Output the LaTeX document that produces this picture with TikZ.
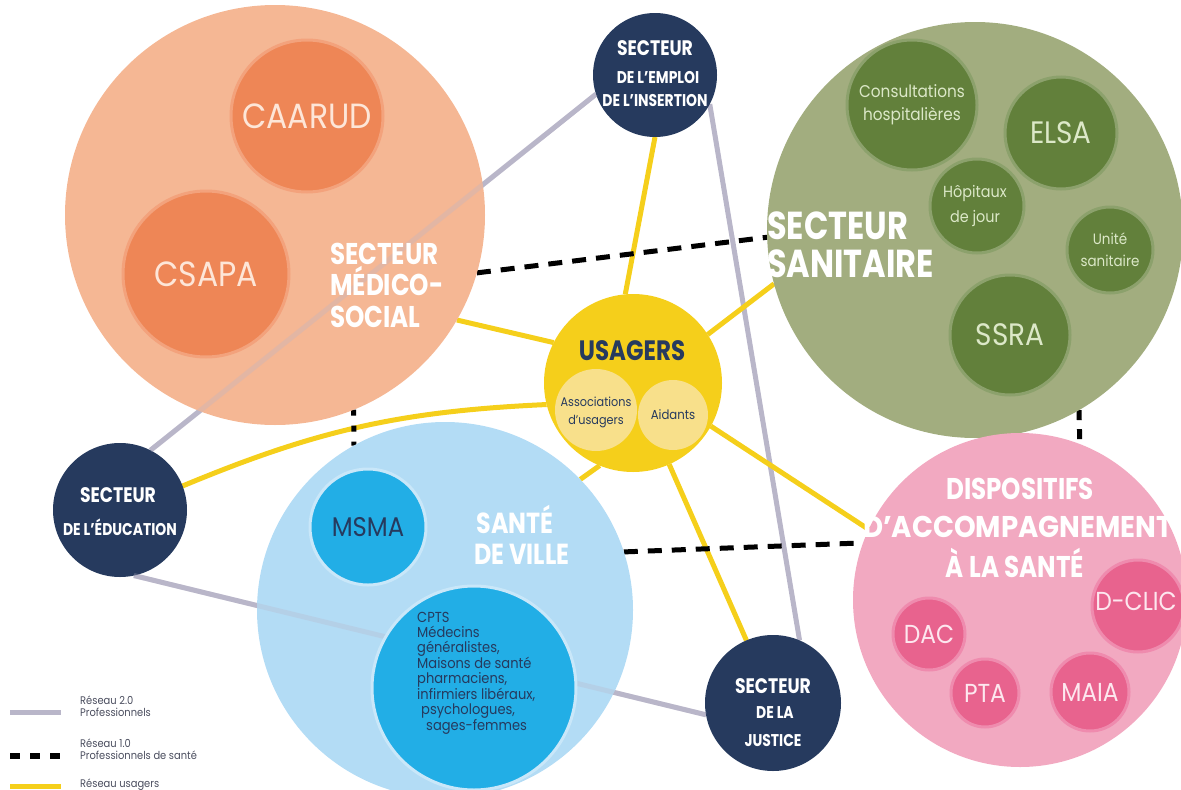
\documentclass[tikz,border=0pt]{standalone}
\usepackage{fontspec}
\setmainfont[FakeStretch=0.9]{Poppins}
\newfontfamily\hf[FakeStretch=0.82]{Poppins}
\newfontfamily\hfw[FakeStretch=0.92]{Poppins}
\newcommand\fsz[2]{\fontsize{#1}{#2}\selectfont}
\definecolor{orbig}{HTML}{F5B794}
\definecolor{orsub}{HTML}{EE8656}
\definecolor{orring}{HTML}{F3A27C}
\definecolor{ortxt}{HTML}{FDE6D8}
\definecolor{navy}{HTML}{263A5E}
\definecolor{grbig}{HTML}{A2AD7F}
\definecolor{grsub}{HTML}{62803B}
\definecolor{grring}{HTML}{8CA16C}
\definecolor{grtxt}{HTML}{DCE8C8}
\definecolor{yel}{HTML}{F5CF1B}
\definecolor{yelsub}{HTML}{F8E08B}
\definecolor{blbig}{HTML}{B3DCF5}
\definecolor{blsub}{HTML}{22AEE6}
\definecolor{blring}{HTML}{C9E7F9}
\definecolor{pkbig}{HTML}{F2A9C1}
\definecolor{pksub}{HTML}{E8638E}
\definecolor{pkring}{HTML}{EF8BAE}
\definecolor{pktxt}{HTML}{FDE7EF}
\definecolor{lgray}{HTML}{B9B6C9}
\definecolor{legtxt}{HTML}{4A4D5E}
\pgfdeclarelayer{back}
\pgfsetlayers{back,main}
\begin{document}
\begin{tikzpicture}[x=1pt,y=-1pt,
  disc/.style={circle,inner sep=0pt,outer sep=0pt,minimum size=#1},
  ring/.style={line width=3pt},
  grayln/.style={line width=5pt,draw=lgray},
  yelln/.style={line width=5pt,draw=yel},
  dashln/.style={line width=5pt,draw=black,dash pattern=on 14pt off 10pt},
  dotln/.style={line width=5pt,draw=black,dash pattern=on 6pt off 10pt},
  hd/.style={font=\hf\bfseries,inner sep=0pt,text=white},
  bd/.style={inner sep=0pt,align=center},
  leg/.style={inner sep=0pt,anchor=west,align=left,text=legtxt,font=\fsz{11}{12.5}}]
\useasboundingbox (0,0) rectangle (1181,790);

% ---------- big circles ----------
\node[disc=420pt,fill=orbig] (med) at (275,215) {};
\node[disc=416pt,fill=grbig] (san) at (975,230) {};
\node[disc=376pt,fill=blbig] (vil) at (445,610) {};
\node[disc=334pt,fill=pkbig] (dis) at (1020,600) {};
\node[disc=178pt,fill=yel] (usa) at (633,383) {};
\node[disc=124pt,fill=navy] (emp) at (655,75) {};
\node[disc=134pt,fill=navy] (edu) at (120,510) {};
\node[disc=136pt,fill=navy] (jus) at (773,703) {};

% ---------- background connectors ----------
\begin{pgfonlayer}{back}
  \draw[grayln] (edu.63) -- (emp.198);
  \draw[grayln] (emp.-28) -- (jus.67);
  \draw[grayln] (edu.-78) -- (jus.190);
  \draw[yelln] (med.-30) -- (usa.153);
  \draw[yelln] (san.195) -- (usa.33);
  \draw[yelln] (emp.-90) -- (usa.95);
  \draw[yelln] (jus.113) -- (usa.-66);
  \draw[yelln] (dis.155) -- (usa.-29);
  \draw[yelln] (vil.44) -- (usa.-112);
  \draw[yelln] (edu.21) to[bend left=10] (usa.194);
  \draw[dashln] (med.-16) -- (san.182);
  \draw[dotln] (med.-68) -- (vil.119.6);
  \draw[dashln] (vil.18) -- (dis.160);
  \draw[line width=5pt,draw=black,dash pattern=on 10pt off 9pt] (san.-60) -- (dis.69);
\end{pgfonlayer}

% gray lines seen faintly through the big circles
\draw[grayln,opacity=0.3] (edu.63) -- (emp.198);
\draw[grayln,opacity=0.3] (edu.-78) -- (jus.190);

% ---------- sub circles ----------
\node[disc=152pt,fill=orsub,draw=orring,ring] (caa) at (307,116) {};
\node[disc=166pt,fill=orsub,draw=orring,ring] (csa) at (206,274) {};
\node[disc=130pt,fill=grsub,draw=grring,ring] (con) at (912,105) {};
\node[disc=112pt,fill=grsub,draw=grring,ring] (els) at (1061,133) {};
\node[disc=94pt,fill=grsub,draw=grring,ring] (hop) at (977,206) {};
\node[disc=86pt,fill=grsub,draw=grring,ring] (uni) at (1110,250) {};
\node[disc=120pt,fill=grsub,draw=grring,ring] (ssr) at (1010,335) {};
\node[disc=82pt,fill=yelsub] (ass) at (596,410) {};
\node[disc=70pt,fill=yelsub] (aid) at (673,415) {};
\node[disc=116pt,fill=blsub,draw=blring,ring] (msm) at (368,527) {};
\node[disc=204pt,fill=blsub,draw=blring,ring] (cpt) at (474,688) {};
\node[disc=72pt,fill=pksub,draw=pkring,ring] (dac) at (929,634) {};
\node[disc=68pt,fill=pksub,draw=pkring,ring] (pta) at (985,693) {};
\node[disc=78pt,fill=pksub,draw=pkring,ring] (mai) at (1090,692) {};
\node[disc=92pt,fill=pksub,draw=pkring,ring] (dcl) at (1138,606) {};

% ---------- texts ----------
\node[bd,text=ortxt,font=\fsz{35}{35}] (tcaa) at (caa) {CAARUD};
\node[bd,text=ortxt,font=\fsz{35}{35}] (tcsa) at (csa) {CSAPA};
\node[hd,anchor=west,align=left,font=\hf\bfseries\fsz{30}{31.5}] (tmed) at (330,285) {SECTEUR\\MÉDICO-\\SOCIAL};

\node[hd,font=\hf\bfseries\fsz{21}{21}] (temp1) at (655,48) {SECTEUR};
\node[hd,font=\hf\bfseries\fsz{17}{17}] (temp2) at (658,78) {DE L’EMPLOI};
\node[hd,font=\hf\bfseries\fsz{17}{17}] (temp3) at (655,101) {DE L’INSERTION};

\node[hd,anchor=west,align=left,font=\hf\bfseries\fsz{39}{38}] (tsan) at (767,245) {SECTEUR\\SANITAIRE};
\node[bd,text=grtxt,font=\fsz{17}{23}] (tcon) at (con) {Consultations\\hospitalières};
\node[bd,text=grtxt,font=\fsz{31}{31}] (tels) at (els) {ELSA};
\node[bd,text=grtxt,font=\fsz{16}{25}] (thop) at (975,206) {Hôpitaux\\de jour};
\node[bd,text=grtxt,font=\fsz{15}{22}] (tuni) at (uni) {Unité\\sanitaire};
\node[bd,text=grtxt,font=\fsz{31}{31}] (tssr) at (ssr) {SSRA};

\node[hd,text=navy,font=\hf\bfseries\fsz{28}{28}] (tusa) at (632,351) {USAGERS};
\node[bd,text=navy,font=\fsz{12.5}{18}] (tass) at (596,412) {Associations\\d’usagers};
\node[bd,text=navy,font=\fsz{13}{13}] (taid) at (aid) {Aidants};

\node[hd,font=\hf\bfseries\fsz{21}{21}] (tedu1) at (118,495) {SECTEUR};
\node[hd,font=\hf\bfseries\fsz{17}{17}] (tedu2) at (120,527) {DE L’ÉDUCATION};

\node[bd,text=navy,font=\fsz{27}{27}] (tmsm) at (msm) {MSMA};
\node[hd,font=\hf\bfseries\fsz{29}{29}] (tvil1) at (515,519) {SANTÉ};
\node[hd,font=\hf\bfseries\fsz{29}{29}] (tvil2) at (522,554) {DE VILLE};
\node[inner sep=0pt,anchor=north west,align=left,text=navy,font=\fsz{14.5}{14.9}] (tcpt) at (417,612)
  {CPTS\\Médecins\\généralistes,\\Maisons de santé\\pharmaciens,\\infirmiers libéraux,\\\hspace*{4pt}psychologues,\\\hspace*{9pt}sages-femmes};

\node[hd,font=\hf\bfseries\fsz{21}{21}] (tjus1) at (773,686) {SECTEUR};
\node[hd,font=\hf\bfseries\fsz{17}{17}] (tjus2) at (775,713) {DE LA};
\node[hd,font=\hf\bfseries\fsz{17}{17}] (tjus3) at (773,740) {JUSTICE};

\node[hd,font=\hf\bfseries\fsz{30}{30}] (tdis1) at (1020,489) {DISPOSITIFS};
\node[hd,font=\hfw\bfseries\fsz{30}{30}] (tdis2) at (1018,527) {D’ACCOMPAGNEMENT};
\node[hd,font=\hf\bfseries\fsz{30}{30}] (tdis3) at (1015,563) {À LA SANTÉ};
\node[bd,text=pktxt,font=\fsz{26}{26}] (tdac) at (dac) {DAC};
\node[bd,text=pktxt,font=\fsz{26}{26}] (tpta) at (pta) {PTA};
\node[bd,text=pktxt,font=\fsz{26}{26}] (tmai) at (mai) {MAIA};
\node[bd,text=pktxt,font=\fsz{26}{26}] (tdcl) at (1136,601) {D-CLIC};

% ---------- legend ----------
\coordinate (la1) at (10,712);
\coordinate (lb1) at (61,712);
\coordinate (la2) at (10,756);
\coordinate (lb2) at (61,756);
\coordinate (la3) at (10,786);
\coordinate (lb3) at (61,786);
\draw[grayln] (la1) -- (lb1);
\draw[line width=6pt,draw=black,dash pattern=on 10pt off 10pt] (la2) -- (lb2);
\draw[yelln] (la3) -- (lb3);
\node[leg] (lt1) at (80,706) {Réseau 2.0\\Professionnels};
\node[leg] (lt2) at (80,749) {Réseau 1.0\\Professionnels de santé};
\node[leg] (lt3) at (80,785) {Réseau usagers};
\end{tikzpicture}
\end{document}
